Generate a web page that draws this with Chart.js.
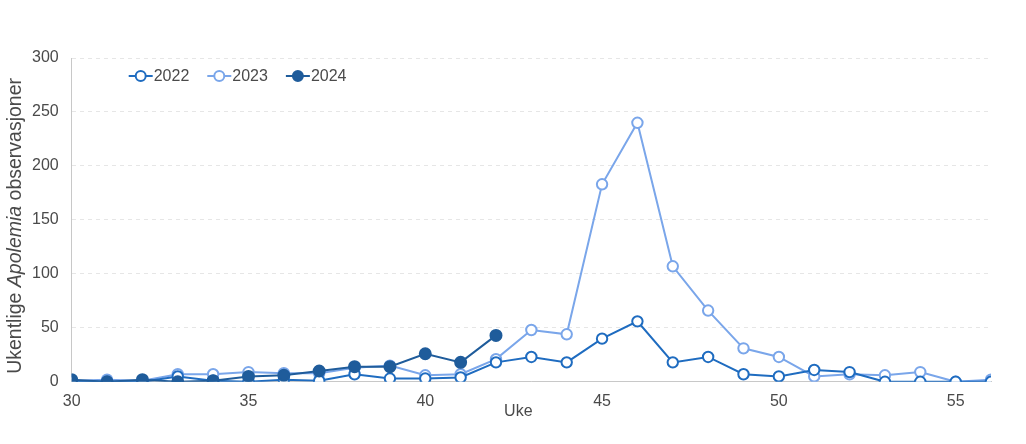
<!DOCTYPE html>
<html>
<head>
<meta charset="utf-8">
<script src="https://cdn.jsdelivr.net/npm/chart.js@4"></script>
<style>
  html, body { margin: 0; padding: 0; background: #fff; }
  #wrap { width: 1026px; height: 444px; }
</style>
</head>
<body>
<div id="wrap"><canvas id="chart"></canvas></div>
<script>
// ── Data ──────────────────────────────────────────────────
const weeks = [30, 31, 32, 33, 34, 35, 36, 37, 38, 39, 40, 41, 42, 43, 44,
  45, 46, 47, 48, 49, 50, 51, 52, 53, 54, 55, 56];
const obs2022 = [0, 0, 0, 5, 1, 0, 2, 1, 7, 3, 3, 4, 18, 23, 18,
  40, 56, 18, 23, 7, 5, 11, 9, 0, 0, 0, 0];
const obs2023 = [1, 2, 1, 7, 7, 9, 8, 8, 13, 15, 6, 7, 21, 48, 44,
  183, 240, 107, 66, 31, 23, 5, 7, 6, 9, 0, 2];
const obs2024 = [2, 0, 2, 0, 1, 5, 6, 10, 14, 14, 26, 18, 43];
const seriesNames = ["2022", "2023", "2024"];
const yTicks = [0, 50, 100, 150, 200, 250, 300];

// ── Style helpers ─────────────────────────────────────────
const FONT = "'Liberation Sans', Arial, sans-serif";
const TEXT = "#4a4a4a";
const COLORS = ["#1f6cc0", "#7aa6ea", "#1f5c9b"];

function toPoints(values) {
  return values.map((v, i) => ({ x: weeks[i], y: v }));
}

function makeDataset(label, values, color, filled, order) {
  return {
    label,
    data: toPoints(values),
    borderColor: color,
    backgroundColor: filled ? color : "#ffffff",
    pointBackgroundColor: filled ? color : "#ffffff",
    pointBorderColor: color,
    pointRadius: filled ? 5.5 : 5.2,
    pointBorderWidth: 2,
    borderWidth: 2,
    tension: 0,
    order,
  };
}

// legend drawn inside the plot, line + marker like the original
const innerLegend = {
  id: "innerLegend",
  afterDraw(chart) {
    const { ctx, chartArea } = chart;
    let x = chartArea.left + 57;
    const y = chartArea.top + 18;
    ctx.save();
    ctx.font = `16px ${FONT}`;
    ctx.textBaseline = "middle";
    chart.data.datasets.forEach((ds) => {
      ctx.strokeStyle = ds.borderColor;
      ctx.lineWidth = 2;
      ctx.beginPath();
      ctx.moveTo(x, y);
      ctx.lineTo(x + 24, y);
      ctx.stroke();
      ctx.beginPath();
      ctx.arc(x + 12, y, 5, 0, Math.PI * 2);
      ctx.fillStyle = ds.pointBackgroundColor;
      ctx.fill();
      ctx.stroke();
      ctx.fillStyle = TEXT;
      ctx.fillText(ds.label, x + 25, y + 1);
      x += 25 + ctx.measureText(ds.label).width + 18;
    });
    ctx.restore();
  },
};

// axis titles; the y title has the genus name in italics
const axisTitles = {
  id: "axisTitles",
  afterDraw(chart) {
    const { ctx, chartArea } = chart;
    const parts = [
      ["Ukentlige ", "normal"],
      ["Apolemia", "italic"],
      [" observasjoner", "normal"],
    ];
    ctx.save();
    ctx.fillStyle = TEXT;
    ctx.textBaseline = "middle";

    ctx.font = `16px ${FONT}`;
    ctx.textAlign = "center";
    ctx.fillText("Uke", (chartArea.left + chartArea.right) / 2 - 13, chartArea.bottom + 30);

    ctx.textAlign = "left";
    let total = 0;
    parts.forEach(([t, s]) => {
      ctx.font = `${s} 19.5px ${FONT}`;
      total += ctx.measureText(t).width;
    });
    ctx.translate(16, (chartArea.top + chartArea.bottom) / 2 + 6);
    ctx.rotate(-Math.PI / 2);
    let x = -total / 2;
    parts.forEach(([t, s]) => {
      ctx.font = `${s} 19.5px ${FONT}`;
      ctx.fillText(t, x, 0);
      x += ctx.measureText(t).width;
    });
    ctx.restore();
  },
};

new Chart(document.getElementById("chart"), {
  type: "line",
  data: {
    datasets: [
      makeDataset(seriesNames[0], obs2022, COLORS[0], false, 2),
      makeDataset(seriesNames[1], obs2023, COLORS[1], false, 3),
      makeDataset(seriesNames[2], obs2024, COLORS[2], true, 1),
    ],
  },
  options: {
    responsive: true,
    maintainAspectRatio: false,
    animation: false,
    layout: { padding: { left: 19, right: 35, top: 58, bottom: 31 } },
    plugins: {
      legend: { display: false },
      tooltip: { enabled: false },
    },
    scales: {
      x: {
        type: "linear",
        min: 30,
        max: 56,
        afterBuildTicks: (axis) => {
          axis.ticks = axis.ticks.filter((t) => t.value % 5 === 0);
        },
        ticks: { stepSize: 5, color: TEXT, font: { family: FONT, size: 16 }, padding: 2 },
        grid: { display: false },
        border: { display: true, color: "#c8c8c8", width: 1 },
      },
      y: {
        min: 0,
        max: 300,
        afterBuildTicks: (axis) => {
          axis.ticks = yTicks.map((v) => ({ value: v }));
        },
        ticks: { color: TEXT, font: { family: FONT, size: 16 }, padding: 13 },
        grid: { color: "#e6e6e6", tickLength: 0, drawTicks: false },
        border: { display: true, color: "#c8c8c8", width: 1, dash: [4, 4] },
      },
    },
  },
  plugins: [innerLegend, axisTitles],
});
</script>
</body>
</html>
